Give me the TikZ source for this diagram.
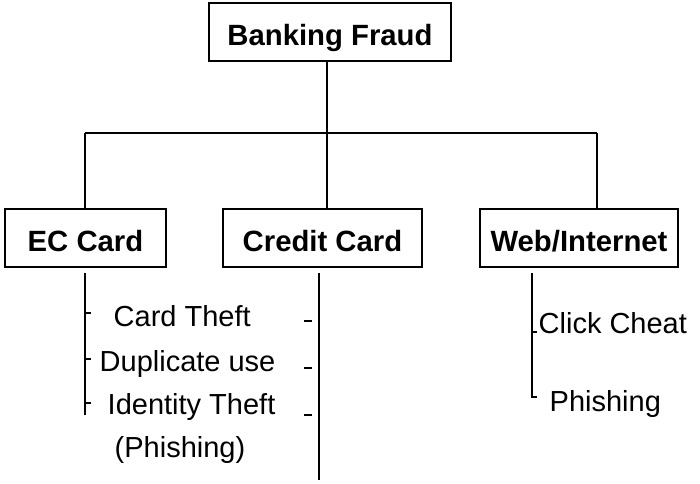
\documentclass[tikz,border=0pt]{standalone}
\usepackage{fontspec}
\setmainfont{Liberation Sans}
\begin{document}
\begin{tikzpicture}[x=1pt,y=-1pt,
  line width=1.4pt,
  catbox/.style={draw, line width=1.4pt, minimum height=58pt, inner sep=0pt,
    text height=26pt, text depth=0pt,
    font=\fontsize{29.3}{33}\selectfont\bfseries},
  item/.style={anchor=base west, inner sep=0pt, font=\fontsize{29}{33}\selectfont},
  tick/.style={line width=1.4pt}]
\useasboundingbox (0,0) rectangle (700,483);

% category boxes
\node[catbox, minimum width=242pt] (bf)  at (330,32)  {Banking Fraud};
\node[catbox, minimum width=161pt] (ec)  at (85.5,238) {EC Card};
\node[catbox, minimum width=199pt] (cc)  at (322.5,238) {Credit Card};
\node[catbox, minimum width=198pt] (web) at (579,238) {Web/Internet};

% tree connectors
\coordinate (hub) at (327,133);
\coordinate (hl) at (85,133);
\coordinate (hr) at (597,133);
\draw (bf.south -| hub) -- (hub);
\draw (hl) -- (hr);
\draw (hl) -- (ec.north -| hl);
\draw (hub) -- (cc.north -| hub);
\draw (hr) -- (web.north -| hr);

% EC card items
\coordinate (ect) at (85,273);
\coordinate (ecb) at (85,415);
\draw (ect) -- (ecb);
\node[item] (ec1) at (113,326) {Card Theft};
\node[item] (ec2) at (99,371) {Duplicate use};
\node[item] (ec3) at (107,414) {Identity Theft};
\node[item] (ec4) at (114,457) {(Phishing)};
\draw[tick] (85,313) -- (91,313);
\draw[tick] (85,359) -- (91,359);
\draw[tick] (85,403) -- (91,403);

% credit card items
\coordinate (cct) at (319,273);
\coordinate (ccb) at (319,480);
\draw (cct) -- (ccb);
\draw[tick] (304,321) -- (312,321);
\draw[tick] (304,368) -- (312,368);
\draw[tick] (304,415) -- (312,415);

% web items
\coordinate (wt) at (532,273);
\coordinate (wb) at (532,397);
\draw (wt) -- (wb) -- (537,397);
\draw[tick] (532,332) -- (537,332);
\node[item] (w1) at (538,333) {Click Cheat};
\node[item] (w2) at (549,411) {Phishing};
\end{tikzpicture}
\end{document}
